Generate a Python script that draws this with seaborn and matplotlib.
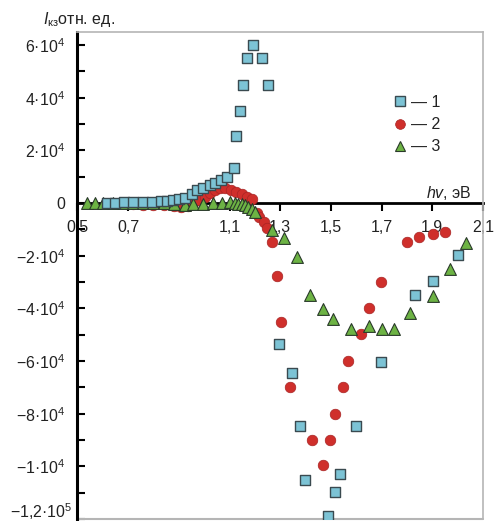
import matplotlib
matplotlib.use("Agg")
import matplotlib.pyplot as plt
import seaborn as sns
import numpy as np
import pandas as pd
from matplotlib.lines import Line2D
from matplotlib.ticker import FixedLocator, MultipleLocator

# ---- data ----
x1 = [0.616, 0.648, 0.684, 0.721, 0.758, 0.793, 0.830, 0.855, 0.878, 0.902, 0.924,
      0.951, 0.971, 0.997, 1.023, 1.043, 1.065, 1.089, 1.116, 1.125, 1.141, 1.154,
      1.168, 1.193, 1.227, 1.253, 1.296, 1.345, 1.378, 1.398, 1.487, 1.516, 1.536,
      1.599, 1.698, 1.832, 1.901, 2.000]
y1 = [200, 200, 250, 300, 350, 400, 700, 760, 1000, 1400, 1780,
      3300, 4900, 5600, 6800, 7700, 8700, 10000, 13200, 25500, 35000, 44900,
      55000, 60000, 55000, 44900, -53700, -64700, -84800, -105000, -119000, -109700, -103000,
      -84800, -60300, -35000, -29700, -19800]

x2 = [0.72, 0.76, 0.80, 0.84, 0.88, 0.91, 0.935, 0.957, 0.981, 1.003, 1.023, 1.043,
      1.062, 1.082, 1.105, 1.126, 1.148, 1.170, 1.190, 1.207, 1.216, 1.237, 1.247,
      1.266, 1.287, 1.305, 1.339, 1.424, 1.468, 1.496, 1.516, 1.549, 1.566, 1.619,
      1.652, 1.698, 1.799, 1.849, 1.902, 1.950]
y2 = [-500, -600, -700, -900, -1200, -1400, -1000, -100, 1140, 2400, 3700, 4900,
      5700, 5700, 4900, 4300, 3400, 2400, 1600, -3900, -5200, -7100, -9600,
      -14900, -27700, -45100, -69800, -89800, -99600, -89800, -80000, -69800, -60000, -49800,
      -39700, -29900, -14900, -13000, -11800, -10900]

x3 = [0.539, 0.569, 0.602, 0.64, 0.68, 0.72, 0.76, 0.80, 0.84, 0.88, 0.925, 0.957,
      0.997, 1.036, 1.069, 1.102, 1.122, 1.135, 1.148, 1.161, 1.174, 1.188, 1.201,
      1.266, 1.316, 1.365, 1.418, 1.468, 1.509, 1.578, 1.652, 1.700, 1.749, 1.812,
      1.902, 1.970, 2.033]
y3 = [0, 0, 0, -100, -100, -100, -100, -100, -100, -200, -700, -300,
      -400, 200, -100, 500, 0, -300, -500, -800, -1400, -2300, -3300,
      -10300, -13200, -20400, -35000, -40400, -44200, -48000, -46800, -48000, -48000, -41900,
      -35200, -25100, -15100]

series_labels = ["— 1", "— 2", "— 3"]

x_ticks = [0.5, 0.7, 1.1, 1.3, 1.5, 1.7, 1.9, 2.1]
x_ticklabels = ["0,5", "0,7", "1,1", "1,3", "1,5", "1,7", "1,9", "2,1"]
y_ticks = [-120000, -100000, -80000, -60000, -40000, -20000, 0, 20000, 40000, 60000]
y_ticklabels = ["−1,2·10$^5$", "−1·10$^4$", "−8·10$^4$", "−6·10$^4$", "−4·10$^4$",
                "−2·10$^4$", "0", "2·10$^4$", "4·10$^4$", "6·10$^4$"]

# ---- style ----
sns.set_theme(style="white")
plt.rcParams["font.family"] = ["Liberation Sans", "DejaVu Sans"]
plt.rcParams["mathtext.fontset"] = "custom"
plt.rcParams["mathtext.rm"] = "Liberation Sans"
plt.rcParams["mathtext.it"] = "Liberation Sans:italic"
plt.rcParams["mathtext.default"] = "regular"

FS = 11.5
TXT = "#222222"

fig = plt.figure(figsize=(5.0, 5.21), dpi=100)
ax = fig.add_axes([77.4 / 500, 1 - 519 / 521, (483 - 77.4) / 500, (519 - 32) / 521])

df1 = pd.DataFrame({"x": x1, "y": y1})
df2 = pd.DataFrame({"x": x2, "y": y2})
df3 = pd.DataFrame({"x": x3, "y": y3})

c_blue, c_red, c_green = "#7cc3d5", "#cf2f2b", "#6db344"

sns.scatterplot(data=df2, x="x", y="y", ax=ax, marker="o", s=58, color=c_red,
                edgecolor="#a82424", linewidth=0.5, zorder=3)
sns.scatterplot(data=df3, x="x", y="y", ax=ax, marker="^", s=72, color=c_green,
                edgecolor="#2a3a2a", linewidth=0.8, zorder=4)
sns.scatterplot(data=df1, x="x", y="y", ax=ax, marker="s", s=54, color=c_blue,
                edgecolor="#3a4a50", linewidth=1.0, zorder=5)

ax.set_xlim(0.5, 2.1)
ax.set_ylim(-120000, 65000)
ax.set_xlabel("")
ax.set_ylabel("")

# spines
ax.spines["bottom"].set_position(("data", 0))
ax.spines["bottom"].set_color("black")
ax.spines["bottom"].set_linewidth(2.0)
ax.spines["bottom"].set_zorder(2)
ax.spines["left"].set_color("black")
ax.spines["left"].set_linewidth(2.2)
for s in ("top", "right"):
    ax.spines[s].set_color("#b5b5b5")
    ax.spines[s].set_linewidth(1.2)
ax.add_line(Line2D([0, 1], [0, 0], transform=ax.transAxes, color="#b5b5b5",
                   lw=1.5, clip_on=False, zorder=1))

ax.xaxis.set_major_locator(FixedLocator(x_ticks))
ax.set_xticklabels(x_ticklabels)
ax.yaxis.set_major_locator(FixedLocator(y_ticks))
# the lowest label is drawn separately (it sits higher and further right in the reference)
ax.set_yticklabels([""] + y_ticklabels[1:])
ax.yaxis.set_minor_locator(MultipleLocator(10000))

ax.tick_params(axis="x", which="both", direction="out", length=6, width=1.5,
               color="black", labelsize=FS, labelcolor=TXT, pad=6, bottom=True)
ax.tick_params(axis="y", which="major", direction="in", length=6, width=1.5,
               color="black", labelsize=FS, labelcolor=TXT, pad=9, left=True)
ax.tick_params(axis="y", which="minor", direction="in", length=6, width=1.5,
               color="black", left=True)
ax.grid(False)

fig.text(73 / 500, 1 - 518 / 521, y_ticklabels[0], fontsize=FS, color=TXT,
         ha="right", va="baseline")

# axis titles
fig.text(43 / 500, 1 - 24 / 521, r"$\mathit{I}_{\mathrm{кз}}$отн. ед.", fontsize=FS,
         color=TXT, ha="left", va="baseline")
ax.text(0.973, (519 - 198) / 487, r"$\mathit{hv}$, эВ", transform=ax.transAxes,
        fontsize=FS, color=TXT, ha="right", va="baseline")

# legend
handles = [
    Line2D([], [], ls="none", marker="s", ms=6.5, mfc=c_blue, mec="#3a4a50", mew=1.0),
    Line2D([], [], ls="none", marker="o", ms=7.0, mfc=c_red, mec="#a82424", mew=0.5),
    Line2D([], [], ls="none", marker="^", ms=7.5, mfc=c_green, mec="#2a3a2a", mew=0.8),
]
leg = ax.legend(handles, series_labels, loc="upper left",
                bbox_to_anchor=((392 - 77.4) / 405.6, (519 - 95) / 487),
                frameon=False, fontsize=FS, handlelength=1.0, handletextpad=0.2,
                labelspacing=0.45, borderpad=0, borderaxespad=0)
for t in leg.get_texts():
    t.set_color(TXT)

fig.savefig("out.png", dpi=100)
